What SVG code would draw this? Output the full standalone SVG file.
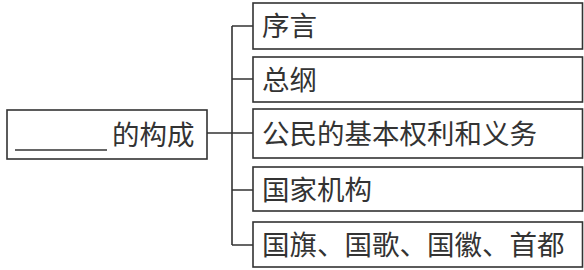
<svg xmlns="http://www.w3.org/2000/svg" width="584" height="270" viewBox="0 0 584 270">
<style>
.box{fill:#fff;stroke:#333;stroke-width:1.6}
.ln{fill:none;stroke:#333;stroke-width:1.6}
.t{font-family:"Noto Sans CJK SC","Noto Sans",sans-serif;font-size:27.5px;fill:#333}
</style>
<rect width="584" height="270" fill="#fff"/>
<g id="connectors">
<path class="ln" d="M207 133H232M232 26V245M232 26H253M232 79H253M232 133H253M232 190H253M232 245H253"/>
</g>
<g id="root">
<rect class="box" x="7" y="110" width="200" height="49"/>
<line class="ln" x1="15" y1="150" x2="107" y2="150"/>
<text class="t" x="112" y="145">的构成</text>
</g>
<g id="n1">
<rect class="box" x="253" y="3" width="329.5" height="46"/>
<text class="t" x="262" y="36">序言</text>
</g>
<g id="n2">
<rect class="box" x="253" y="57" width="329.5" height="45"/>
<text class="t" x="262" y="90">总纲</text>
</g>
<g id="n3">
<rect class="box" x="253" y="109" width="329.5" height="49"/>
<text class="t" x="262" y="144">公民的基本权利和义务</text>
</g>
<g id="n4">
<rect class="box" x="253" y="167" width="329.5" height="44"/>
<text class="t" x="262" y="200">国家机构</text>
</g>
<g id="n5">
<rect class="box" x="253" y="222" width="329.5" height="45"/>
<text class="t" x="262" y="255">国旗、国歌、国徽、首都</text>
</g>
</svg>
